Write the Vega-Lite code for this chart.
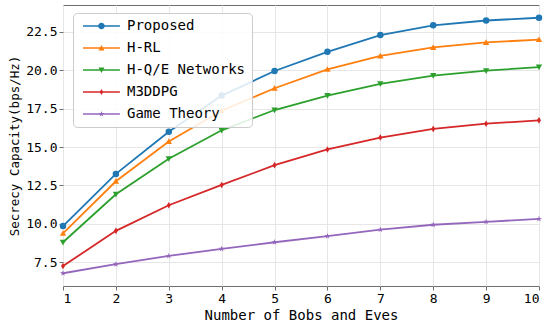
{
  "$schema": "https://vega.github.io/schema/vega-lite/v6.json",
  "width": 476,
  "height": 281,
  "autosize": {"type": "none"},
  "padding": {"left": 63, "top": 5, "right": 11, "bottom": 40},
  "config": {
    "background": "white",
    "view": {"stroke": "#6e6e6e", "strokeWidth": 1},
    "axis": {
      "domain": false,
      "tickColor": "#6e6e6e",
      "tickSize": 4,
      "labelPadding": 2,
      "labelFont": "DejaVu Sans Mono",
      "labelFontSize": 13,
      "labelColor": "black",
      "titleFont": "DejaVu Sans Mono",
      "titleFontWeight": "normal",
      "titleColor": "black",
      "gridColor": "#e6e6e6",
      "gridWidth": 1
    }
  },
  "data": {
    "values": [
      {"x": 1, "series": "Proposed", "v": 9.85},
      {"x": 2, "series": "Proposed", "v": 13.25},
      {"x": 3, "series": "Proposed", "v": 16.0},
      {"x": 4, "series": "Proposed", "v": 18.35},
      {"x": 5, "series": "Proposed", "v": 19.95},
      {"x": 6, "series": "Proposed", "v": 21.2},
      {"x": 7, "series": "Proposed", "v": 22.29},
      {"x": 8, "series": "Proposed", "v": 22.93},
      {"x": 9, "series": "Proposed", "v": 23.24},
      {"x": 10, "series": "Proposed", "v": 23.42},
      {"x": 1, "series": "H-RL", "v": 9.38},
      {"x": 2, "series": "H-RL", "v": 12.77},
      {"x": 3, "series": "H-RL", "v": 15.36},
      {"x": 4, "series": "H-RL", "v": 17.36},
      {"x": 5, "series": "H-RL", "v": 18.83},
      {"x": 6, "series": "H-RL", "v": 20.06},
      {"x": 7, "series": "H-RL", "v": 20.93},
      {"x": 8, "series": "H-RL", "v": 21.49},
      {"x": 9, "series": "H-RL", "v": 21.81},
      {"x": 10, "series": "H-RL", "v": 22.0},
      {"x": 1, "series": "H-Q/E Networks", "v": 8.8},
      {"x": 2, "series": "H-Q/E Networks", "v": 11.92},
      {"x": 3, "series": "H-Q/E Networks", "v": 14.24},
      {"x": 4, "series": "H-Q/E Networks", "v": 16.09},
      {"x": 5, "series": "H-Q/E Networks", "v": 17.41},
      {"x": 6, "series": "H-Q/E Networks", "v": 18.35},
      {"x": 7, "series": "H-Q/E Networks", "v": 19.12},
      {"x": 8, "series": "H-Q/E Networks", "v": 19.65},
      {"x": 9, "series": "H-Q/E Networks", "v": 19.97},
      {"x": 10, "series": "H-Q/E Networks", "v": 20.21},
      {"x": 1, "series": "M3DDPG", "v": 7.25},
      {"x": 2, "series": "M3DDPG", "v": 9.54},
      {"x": 3, "series": "M3DDPG", "v": 11.21},
      {"x": 4, "series": "M3DDPG", "v": 12.53},
      {"x": 5, "series": "M3DDPG", "v": 13.82},
      {"x": 6, "series": "M3DDPG", "v": 14.84},
      {"x": 7, "series": "M3DDPG", "v": 15.62},
      {"x": 8, "series": "M3DDPG", "v": 16.18},
      {"x": 9, "series": "M3DDPG", "v": 16.52},
      {"x": 10, "series": "M3DDPG", "v": 16.74},
      {"x": 1, "series": "Game Theory", "v": 6.78},
      {"x": 2, "series": "Game Theory", "v": 7.37},
      {"x": 3, "series": "Game Theory", "v": 7.91},
      {"x": 4, "series": "Game Theory", "v": 8.37},
      {"x": 5, "series": "Game Theory", "v": 8.8},
      {"x": 6, "series": "Game Theory", "v": 9.2},
      {"x": 7, "series": "Game Theory", "v": 9.62},
      {"x": 8, "series": "Game Theory", "v": 9.94},
      {"x": 9, "series": "Game Theory", "v": 10.13},
      {"x": 10, "series": "Game Theory", "v": 10.32}
    ]
  },
  "encoding": {
    "x": {
      "field": "x", "type": "quantitative",
      "scale": {"domain": [1, 10], "nice": false, "zero": false},
      "axis": {"values": [1,2,3,4,5,6,7,8,9,10], "format": "d", "title": "Number of Bobs and Eves", "titleFontSize": 14, "titlePadding": 3}
    },
    "y": {
      "field": "v", "type": "quantitative",
      "scale": {"domain": [5.95, 24.25], "nice": false, "zero": false},
      "axis": {"values": [7.5, 10, 12.5, 15, 17.5, 20, 22.5], "format": ".1f", "title": "Secrecy Capacity(bps/Hz)", "titleFontSize": 12.5, "titlePadding": 4}
    }
  },
  "layer": [
    {
      "transform": [{"filter": "false"}],
      "mark": {"type": "point", "filled": true, "opacity": 1},
      "encoding": {
        "color": {
          "field": "series", "type": "nominal",
          "scale": {"domain": ["Proposed", "H-RL", "H-Q/E Networks", "M3DDPG", "Game Theory"], "range": ["#1f77b4", "#ff7f0e", "#2ca02c", "#d62728", "#9467bd"]},
          "legend": {"orient": "none", "legendX": 10, "legendY": 8, "title": null, "labelFont": "DejaVu Sans Mono", "labelFontSize": 14, "labelColor": "black", "symbolSize": 36, "labelOffset": 34, "rowPadding": 8, "padding": 6, "fillColor": "rgba(255,255,255,0.85)", "strokeColor": "#cccccc", "cornerRadius": 4, "symbolStrokeWidth": 0, "symbolOpacity": 1}
        },
        "shape": {
          "field": "series", "type": "nominal",
          "scale": {"domain": ["Proposed", "H-RL", "H-Q/E Networks", "M3DDPG", "Game Theory"], "range": [
            "M-1,-0.27H11.3V0.27H-1ZM6.25,0A1.1,1.1 0 1,1 4.05,0A1.1,1.1 0 1,1 6.25,0Z",
            "M-1,-0.27H11.3V0.27H-1ZM5.15,-1L6.15,0.8L4.15,0.8Z",
            "M-1,-0.27H11.3V0.27H-1ZM5.15,1L4.15,-0.8L6.15,-0.8Z",
            "M-1,-0.27H11.3V0.27H-1ZM5.15,-1L5.75,0L5.15,1L4.55,0Z",
            "M-1,-0.27H11.3V0.27H-1ZM5.15,-1L5.375,-0.309L6.101,-0.309L5.513,0.118L5.738,0.809L5.15,0.382L4.562,0.809L4.787,0.118L4.199,-0.309L4.925,-0.309Z"
          ]},
          "legend": {"orient": "none", "legendX": 10, "legendY": 8, "title": null, "labelFont": "DejaVu Sans Mono", "labelFontSize": 14, "labelColor": "black", "symbolSize": 36, "labelOffset": 34, "rowPadding": 8, "padding": 6, "fillColor": "rgba(255,255,255,0.85)", "strokeColor": "#cccccc", "cornerRadius": 4, "symbolStrokeWidth": 0, "symbolOpacity": 1}
        }
      }
    },
    {
      "mark": {"type": "line", "strokeWidth": 1.8},
      "encoding": {
        "color": {"field": "series", "type": "nominal", "legend": null},
        "detail": {"field": "series"}
      }
    },
    {
      "transform": [{"filter": "datum.series === 'Proposed'"}],
      "mark": {"type": "point", "filled": true, "opacity": 1, "shape": "circle", "size": 42},
      "encoding": {"color": {"field": "series", "type": "nominal", "legend": null}}
    },
    {
      "transform": [{"filter": "datum.series === 'H-RL'"}],
      "mark": {"type": "point", "filled": true, "opacity": 1, "shape": "M0,-1L1,0.8L-1,0.8Z", "size": 40},
      "encoding": {"color": {"field": "series", "type": "nominal", "legend": null}}
    },
    {
      "transform": [{"filter": "datum.series === 'H-Q/E Networks'"}],
      "mark": {"type": "point", "filled": true, "opacity": 1, "shape": "M0,1L-1,-0.8L1,-0.8Z", "size": 40},
      "encoding": {"color": {"field": "series", "type": "nominal", "legend": null}}
    },
    {
      "transform": [{"filter": "datum.series === 'M3DDPG'"}],
      "mark": {"type": "point", "filled": true, "opacity": 1, "shape": "M0,-1L0.6,0L0,1L-0.6,0Z", "size": 44},
      "encoding": {"color": {"field": "series", "type": "nominal", "legend": null}}
    },
    {
      "transform": [{"filter": "datum.series === 'Game Theory'"}],
      "mark": {"type": "point", "filled": true, "opacity": 1, "shape": "M0,-1L0.225,-0.309L0.951,-0.309L0.363,0.118L0.588,0.809L0,0.382L-0.588,0.809L-0.363,0.118L-0.951,-0.309L-0.225,-0.309Z", "size": 40},
      "encoding": {"color": {"field": "series", "type": "nominal", "legend": null}}
    }
  ]
}
